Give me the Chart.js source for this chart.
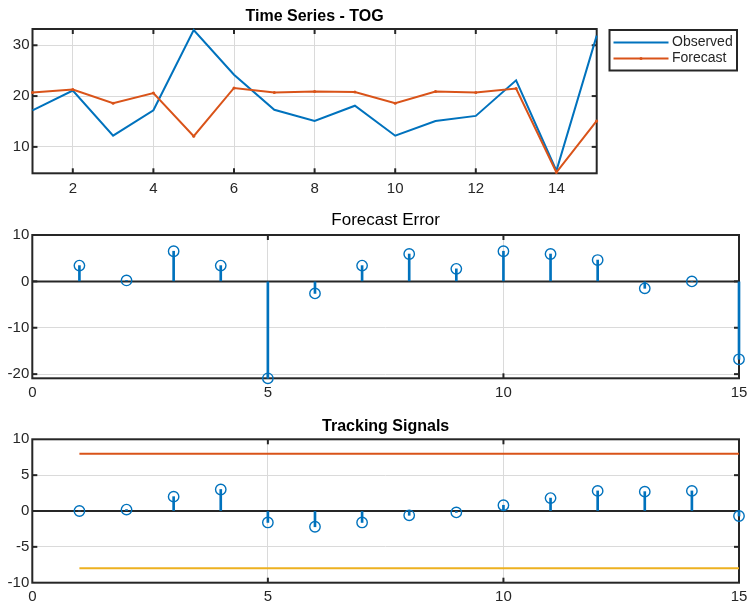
<!DOCTYPE html>
<html>
<head>
<meta charset="utf-8">
<script src="https://cdn.jsdelivr.net/npm/chart.js@4.4.1/dist/chart.umd.min.js"></script>
<style>
  html, body { margin: 0; padding: 0; background: #ffffff; }
  #wrap { position: relative; width: 748px; height: 605px; overflow: hidden; }
  #wrap canvas { position: absolute; left: 0; }
</style>
</head>
<body>
<div id="wrap">
  <canvas id="series" width="748" height="200" style="top:0px"></canvas>
  <canvas id="errors" width="748" height="205" style="top:200px"></canvas>
  <canvas id="signals" width="748" height="200" style="top:405px"></canvas>
</div>
<script>
// ---- data ----
const periods = [1, 2, 3, 4, 5, 6, 7, 8, 9, 10, 11, 12, 13, 14, 15];
const observed = [17.2, 21.1, 12.2, 17.2, 33.0, 24.2, 17.3, 15.1, 18.1, 12.2, 15.1, 16.1, 23.1, 5.3, 31.9];
const forecast = [20.7, 21.3, 18.6, 20.6, 12.1, 21.6, 20.7, 20.9, 20.8, 18.6, 20.9, 20.7, 21.5, 5.0, 15.1];
const forecastError = [3.4, 0.2, 6.5, 3.4, -20.9, -2.6, 3.4, 5.9, 2.7, 6.5, 5.9, 4.6, -1.5, 0.0, -16.8];
const trackingSignal = [0.0, 0.2, 2.0, 3.0, -1.6, -2.2, -1.6, -0.6, -0.2, 0.8, 1.8, 2.8, 2.7, 2.8, -0.7];
const upperLimit = 8;
const lowerLimit = -8;

// ---- tick labels ----
const seriesXTicks = [2, 4, 6, 8, 10, 12, 14];
const seriesYTicks = [10, 20, 30];
const stemXTicks = [0, 5, 10, 15];
const errorYTicks = [-20, -10, 0, 10];
const signalYTicks = [-10, -5, 0, 5, 10];

// ---- styling ----
const FONT = "'Liberation Sans', Arial, Helvetica, sans-serif";
const INK = '#262626';
const GRID = '#dadada';
const BLUE = '#0072BD';
const ORANGE = '#D95319';
const YELLOW = '#EDB120';

const pts = (xs, ys) => xs.map((x, i) => ({ x: x, y: ys[i] }));

function axis(min, max, ticks, isX, fit, pad) {
  return {
    type: 'linear',
    position: isX ? 'bottom' : 'left',
    min: min,
    max: max,
    offset: false,
    afterBuildTicks: s => { s.ticks = ticks.map(v => ({ value: v })); },
    grid: { color: GRID, lineWidth: 1, drawTicks: false, offset: false },
    border: { display: false },
    ticks: {
      color: INK,
      font: { family: FONT, size: 15 },
      padding: pad,
      maxRotation: 0,
      autoSkip: false,
      callback: v => String(v)
    },
    afterFit: s => {
      if (isX) { s.height = fit; s.paddingLeft = 0; s.paddingRight = 0; }
      else { s.width = fit; s.paddingTop = 0; s.paddingBottom = 0; }
    }
  };
}

function title(text, weight, size, padTop, padBottom) {
  return {
    display: true,
    text: text,
    fullSize: false,
    color: '#000000',
    font: { family: FONT, size: size, weight: weight, lineHeight: 1.2 },
    padding: { top: padTop, bottom: padBottom }
  };
}

// axes box, inward tick marks and stem baseline
const axesFrame = {
  id: 'axesFrame',
  beforeDatasetsDraw(chart, _args, o) {
    const { ctx, chartArea: a, scales: { x, y } } = chart;
    const seg = (x1, y1, x2, y2) => { ctx.beginPath(); ctx.moveTo(x1, y1); ctx.lineTo(x2, y2); ctx.stroke(); };
    const L = 5;
    ctx.save();
    ctx.strokeStyle = INK;
    ctx.lineWidth = 2;
    if (o.baseline) {
      const py = y.getPixelForValue(0);
      seg(a.left, py, a.right, py);
    }
    x.ticks.forEach(t => {
      const px = x.getPixelForValue(t.value);
      if (px <= a.left + 1 || px >= a.right - 1) return;
      seg(px, a.bottom, px, a.bottom - L);
      seg(px, a.top, px, a.top + L);
    });
    y.ticks.forEach(t => {
      const py = y.getPixelForValue(t.value);
      if (py <= a.top + 1 || py >= a.bottom - 1) return;
      seg(a.left, py, a.left + L, py);
      seg(a.right, py, a.right - L, py);
    });
    ctx.strokeRect(a.left, a.top, a.right - a.left, a.bottom - a.top);
    ctx.restore();
  },
  afterDraw(chart, _args, o) {
    if (!o.legend) return;
    const { ctx } = chart;
    const b = o.legend;
    ctx.save();
    ctx.fillStyle = '#ffffff';
    ctx.fillRect(b.x, b.y, b.w, b.h);
    ctx.strokeStyle = INK;
    ctx.lineWidth = 2;
    ctx.strokeRect(b.x, b.y, b.w, b.h);
    ctx.font = '14px ' + FONT;
    ctx.textBaseline = 'middle';
    ctx.textAlign = 'left';
    chart.data.datasets.forEach((ds, i) => {
      const ly = b.rows[i];
      ctx.strokeStyle = ds.borderColor;
      ctx.lineWidth = 2;
      ctx.beginPath();
      ctx.moveTo(b.lineX1, ly);
      ctx.lineTo(b.lineX2, ly);
      ctx.stroke();
      if (ds.pointRadius > 0) {
        ctx.fillStyle = ds.borderColor;
        ctx.beginPath();
        ctx.arc((b.lineX1 + b.lineX2) / 2, ly, ds.pointRadius, 0, Math.PI * 2);
        ctx.fill();
      }
      ctx.fillStyle = INK;
      ctx.fillText(ds.label, b.textX, ly);
    });
    ctx.restore();
  }
};
Chart.register(axesFrame);

const common = {
  responsive: false,
  animation: false,
  events: [],
};

// ---- Time Series - TOG ----
new Chart(document.getElementById('series'), {
  type: 'line',
  data: {
    datasets: [
      { label: 'Observed', data: pts(periods, observed), borderColor: BLUE, backgroundColor: BLUE,
        borderWidth: 2, pointRadius: 0, tension: 0, clip: false, order: 1 },
      { label: 'Forecast', data: pts(periods, forecast), borderColor: ORANGE, backgroundColor: ORANGE,
        borderWidth: 2, pointRadius: 1.5, pointBorderWidth: 0, tension: 0, clip: false, order: 0 }
    ]
  },
  options: Object.assign({}, common, {
    layout: { padding: { top: 0, left: 0, right: 151.3, bottom: 0 } },
    scales: {
      x: axis(1, 15, seriesXTicks, true, 26.7, 7),
      y: axis(4.8, 33.2, seriesYTicks, false, 32.5, 3)
    },
    plugins: {
      legend: { display: false },
      tooltip: { enabled: false },
      title: title('Time Series - TOG', 'bold', 16, 6.9, 2.9),
      axesFrame: {
        baseline: false,
        legend: { x: 609.5, y: 30, w: 127.5, h: 40.5, rows: [42.5, 58.5], lineX1: 613.5, lineX2: 668.5, textX: 672 }
      }
    }
  })
});

// stem datasets shared by the lower two panels
function stemDatasets(values, extra) {
  return [
    { type: 'bar', data: pts(periods, values), backgroundColor: BLUE, borderWidth: 0,
      barThickness: 2, grouped: false, clip: false, order: 2 },
    { type: 'scatter', data: pts(periods, values), showLine: false, pointStyle: 'circle',
      pointRadius: 5.2, pointBorderWidth: 1.4, borderColor: BLUE, backgroundColor: 'rgba(0,0,0,0)',
      clip: false, order: 1 }
  ].concat(extra || []);
}

// ---- Forecast Error ----
new Chart(document.getElementById('errors'), {
  type: 'scatter',
  data: { datasets: stemDatasets(forecastError) },
  options: Object.assign({}, common, {
    layout: { padding: { top: 0, left: 0, right: 9, bottom: 0 } },
    scales: {
      x: axis(0, 15, stemXTicks, true, 26.7, 6),
      y: axis(-20.9, 10, errorYTicks, false, 32.3, 3)
    },
    plugins: {
      legend: { display: false },
      tooltip: { enabled: false },
      title: title('Forecast Error', 'normal', 17, 9.8, 4.8),
      axesFrame: { baseline: true }
    }
  })
});

// ---- Tracking Signals ----
const limitLine = (value, color) => ({
  type: 'line',
  data: [{ x: periods[0], y: value }, { x: periods[periods.length - 1], y: value }],
  borderColor: color, borderWidth: 2, pointRadius: 0, tension: 0, clip: false, order: 3
});

new Chart(document.getElementById('signals'), {
  type: 'scatter',
  data: {
    datasets: stemDatasets(trackingSignal, [limitLine(upperLimit, ORANGE), limitLine(lowerLimit, YELLOW)])
  },
  options: Object.assign({}, common, {
    layout: { padding: { top: 0, left: 0, right: 9, bottom: 0 } },
    scales: {
      x: axis(0, 15, stemXTicks, true, 22.3, 5),
      y: axis(-10, 10, signalYTicks, false, 32.3, 3)
    },
    plugins: {
      legend: { display: false },
      tooltip: { enabled: false },
      title: title('Tracking Signals', 'bold', 16, 12.4, 2.7),
      axesFrame: { baseline: true }
    }
  })
});
</script>
</body>
</html>
